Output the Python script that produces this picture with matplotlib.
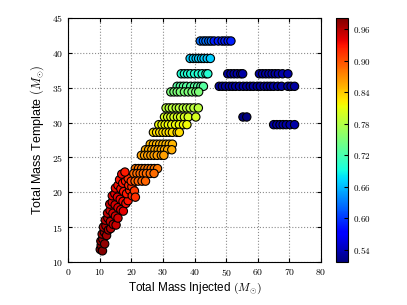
import numpy as np
import matplotlib
matplotlib.use("Agg")
import matplotlib.pyplot as plt
from matplotlib.ticker import FuncFormatter

plt.rcParams["mathtext.fontset"] = "cm"
plt.rcParams["font.family"] = ["Liberation Sans", "DejaVu Sans"]

# upper rows: template mass, injected masses, match
row_y = [41.7, 41.7, 39.2, 37.0, 35.2, 34.4, 32.1, 30.8, 29.7, 28.6,
         26.9, 26.1, 25.3, 23.4, 22.7, 21.6,
         37.0, 37.0, 35.2, 30.8, 29.7]
row_x = [
    [41.8, 42.8, 43.6, 44.5, 45.3],
    [46.2, 47.5, 48.7, 49.6, 50.6, 51.5],
    [38.6, 39.6, 40.5, 41.3, 42.2, 43.0, 44.0, 45.0],
    [35.8, 36.8, 37.8, 38.8, 40.0, 41.2, 42.4, 43.6, 44.2],
    [34.5, 35.5, 36.5, 37.5, 38.8, 40.0, 41.0, 42.0, 42.8],
    [32.5, 33.5, 34.5, 35.5, 36.8, 38.0, 39.2, 40.4, 41.3],
    [31.0, 32.0, 33.0, 34.2, 35.2, 36.4, 37.5, 38.6, 39.8, 41.2],
    [30.5, 31.5, 32.5, 33.5, 34.6, 35.6, 36.8, 38.0, 40.4],
    [28.7, 29.7, 30.7, 31.7, 32.8, 34.0, 35.2, 36.5, 37.6],
    [27.0, 28.0, 29.0, 30.0, 31.0, 32.0, 33.0, 34.5, 35.2],
    [26.0, 27.0, 28.0, 29.0, 30.0, 31.0, 32.0, 33.0],
    [24.5, 25.5, 26.5, 27.5, 28.5, 29.5, 30.5, 31.5, 32.8],
    [23.2, 24.2, 25.2, 26.2, 27.2, 28.2, 29.5, 30.3],
    [21.3, 22.3, 23.3, 24.3, 25.3, 26.3, 27.3, 28.3],
    [20.8, 21.8, 22.8, 23.8, 24.8, 26.0, 27.2],
    [21.2, 22.2, 23.4, 24.5],
    [50.5, 51.5, 52.5, 53.5, 54.6, 55.2],
    [60.5, 61.5, 62.5, 63.5, 64.5, 65.5, 66.5, 67.8, 69.5],
    [47.8, 48.8, 49.8, 51.0, 52.0, 53.0, 54.2, 55.4, 56.5, 57.6, 58.6,
     59.8, 60.8, 62.0, 63.0, 64.0, 65.0, 66.3, 67.5, 69.5, 70.5, 71.6],
    [55.3, 56.5],
    [65.0, 66.0, 67.0, 68.0, 69.0, 70.2, 71.6],
]
row_match = [0.625, 0.588, 0.668, 0.70, 0.728, 0.75, 0.785, 0.80, 0.815, 0.83,
             0.85, 0.855, 0.86, 0.88, 0.885, 0.89,
             0.532, 0.535, 0.53, 0.517, 0.535]

# lower band: individual points
band_x = [10.2, 10.5, 10.9, 10.4, 11.0, 11.6, 10.8, 11.5, 12.2, 11.2, 12.0,
          12.8, 13.5, 11.8, 12.6, 13.4, 14.3, 15.2, 12.5, 13.3, 14.2, 15.0,
          15.8, 13.2, 14.0, 14.9, 15.8, 16.7, 17.5, 14.0, 14.8, 15.6, 16.5,
          17.4, 18.3, 19.0, 15.0, 15.8, 16.7, 17.6, 18.5, 19.5, 20.3, 16.3,
          17.3, 18.2, 19.2, 20.2, 21.0, 19.0, 20.0, 21.3, 17.0, 18.0]
band_y = [11.8, 12.4, 11.6, 13.0, 13.3, 12.6, 14.0, 14.3, 13.8, 15.0, 15.2,
          14.6, 14.8, 16.0, 16.3, 15.8, 15.4, 15.3, 17.0, 17.4, 17.0, 16.6,
          16.3, 18.3, 18.6, 18.2, 17.8, 17.5, 17.3, 19.5, 19.8, 19.3, 19.0,
          18.7, 18.4, 18.8, 20.6, 21.0, 20.5, 20.1, 19.8, 20.3, 19.5, 21.8,
          21.3, 21.6, 21.0, 20.8, 20.2, 22.0, 21.6, 19.3, 22.6, 22.9]
band_match = [0.981, 0.975, 0.978, 0.972, 0.97, 0.972, 0.968, 0.966, 0.965,
              0.962, 0.96, 0.962, 0.96, 0.958, 0.956, 0.955, 0.955, 0.952,
              0.953, 0.95, 0.95, 0.95, 0.948, 0.947, 0.945, 0.945, 0.943,
              0.942, 0.94, 0.94, 0.938, 0.938, 0.936, 0.935, 0.933, 0.93,
              0.935, 0.932, 0.932, 0.93, 0.928, 0.922, 0.92, 0.93, 0.928,
              0.926, 0.922, 0.915, 0.912, 0.915, 0.91, 0.915, 0.935, 0.925]

xs, ys, cs = list(band_x), list(band_y), list(band_match)
for y, xr, m in zip(row_y, row_x, row_match):
    xs += xr
    ys += [y] * len(xr)
    cs += [m] * len(xr)

fig = plt.figure(figsize=(4.07, 3.05), dpi=100)
ax = fig.add_axes([0.167, 0.141, 0.622, 0.8])
cax = fig.add_axes([0.8256, 0.141, 0.0295, 0.8])

sc = ax.scatter(xs, ys, c=cs, cmap="jet", s=36, edgecolors="black",
                linewidths=0.8, vmin=0.517, vmax=0.981, zorder=3)

ax.set_xlim(0, 80)
ax.set_ylim(10, 45)
ax.set_xticks(np.arange(0, 81, 10))
ax.set_yticks(np.arange(10, 46, 5))
fmt = FuncFormatter(lambda v, p: "$%g$" % v)
ax.xaxis.set_major_formatter(fmt)
ax.yaxis.set_major_formatter(fmt)
ax.tick_params(direction="in", top=True, right=True, labelsize=7, length=3)
ax.grid(True, color="0.55", linestyle=":", linewidth=0.8)
ax.set_axisbelow(True)
ax.set_xlabel(r"Total Mass Injected $(M_{\odot})$", fontsize=8.5, labelpad=2)
ax.set_ylabel(r"Total Mass Template $(M_{\odot})$", fontsize=9, labelpad=4)

cb = fig.colorbar(sc, cax=cax)
cb.set_ticks([0.54, 0.60, 0.66, 0.72, 0.78, 0.84, 0.90, 0.96])
cb.ax.yaxis.set_major_formatter(FuncFormatter(lambda v, p: "$%.2f$" % v))
cb.ax.tick_params(labelsize=6.5, direction="in", length=3)

fig.savefig("out.png", dpi=100)
